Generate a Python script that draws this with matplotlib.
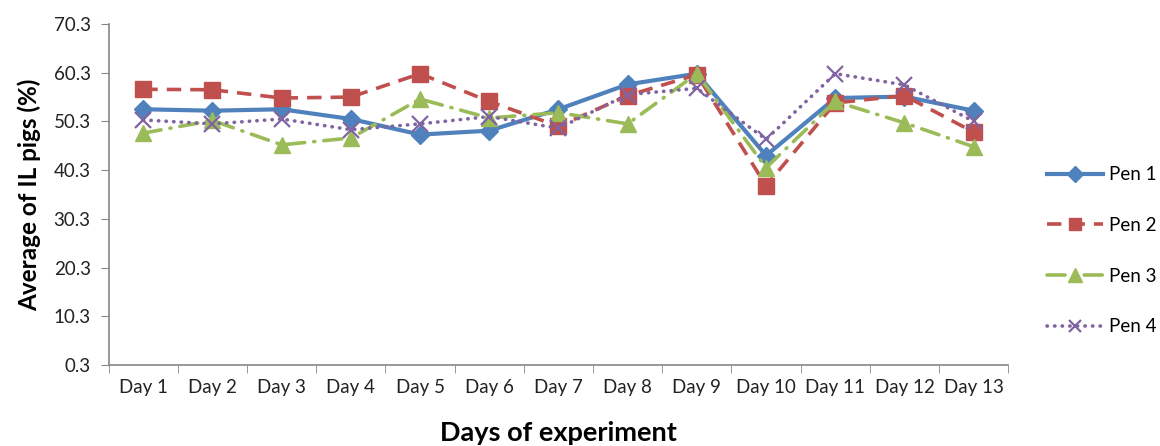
import matplotlib.pyplot as plt
import numpy as np

days = ["Day 1", "Day 2", "Day 3", "Day 4", "Day 5", "Day 6", "Day 7",
        "Day 8", "Day 9", "Day 10", "Day 11", "Day 12", "Day 13"]
pen1 = [52.8, 52.5, 52.8, 50.8, 47.6, 48.4, 52.8, 57.9, 60.1, 43.3, 55.1, 55.4, 52.5]
pen2 = [56.9, 56.8, 55.1, 55.3, 60.1, 54.4, 49.3, 55.6, 59.9, 37.1, 54.1, 55.6, 48.1]
pen3 = [47.9, 50.5, 45.5, 46.9, 54.9, 51.0, 52.1, 49.8, 60.1, 40.8, 54.4, 50.0, 45.1]
pen4 = [50.6, 49.8, 50.8, 48.6, 49.8, 51.3, 48.9, 55.8, 57.1, 46.6, 60.1, 57.8, 50.3]
yticks = [0.3, 10.3, 20.3, 30.3, 40.3, 50.3, 60.3, 70.3]

plt.rcParams['font.family'] = ['Lato', 'DejaVu Sans']

fig = plt.figure(figsize=(11.6, 4.46), dpi=100)
ax = fig.add_axes([0.0937, 0.1816, 0.7755, 0.7646])

x = np.arange(len(days))
ax.plot(x, pen1, color='#4F81BD', lw=3, marker='D', ms=9, label='Pen 1')
ax.plot(x, pen2, color='#C0504D', lw=2.6, ls=(0, (4, 2.5)), marker='s', ms=11, label='Pen 2')
ax.plot(x, pen3, color='#9BBB59', lw=2.6, ls=(0, (5, 2.5, 0.3, 2.5)), marker='^', ms=12,
        dash_capstyle='round', label='Pen 3')
ax.plot(x, pen4, color='#8064A2', lw=2.6, ls=(0, (0.1, 2)), dash_capstyle='round',
        marker='x', ms=11, mew=1.6, label='Pen 4')

ax.set_xlim(-0.5, len(days) - 0.5)
ax.set_ylim(0.3, 70.3)
ax.set_yticks(yticks)
ax.set_yticklabels([f"{v:.1f}" for v in yticks], fontsize=13.5, color='#222222')
ax.set_xticks(x)
ax.set_xticklabels(days, fontsize=13.5, color='#222222')
ax.set_xticks(np.arange(len(days) + 1) - 0.5, minor=True)
ax.tick_params(axis='x', which='major', length=0, pad=10)
ax.tick_params(axis='x', which='minor', length=6, color='#868686', direction='out')
ax.tick_params(axis='y', length=6, color='#868686', direction='out', pad=7)

for s in ['top', 'right']:
    ax.spines[s].set_visible(False)
for s in ['left', 'bottom']:
    ax.spines[s].set_color('#868686')
    ax.spines[s].set_linewidth(1.2)

ax.set_ylabel("Average of IL pigs (%)", fontsize=17.5, fontweight='bold', labelpad=9)
ax.set_xlabel("Days of experiment", fontsize=19.5, fontweight='bold', labelpad=18)

ax.legend(loc='center left', bbox_to_anchor=(1.024, 0.335), frameon=False,
          fontsize=13.5, handlelength=3.0, labelspacing=1.8, handletextpad=0.3,
          markerscale=0.85)

fig.savefig("out.png", dpi=100)
